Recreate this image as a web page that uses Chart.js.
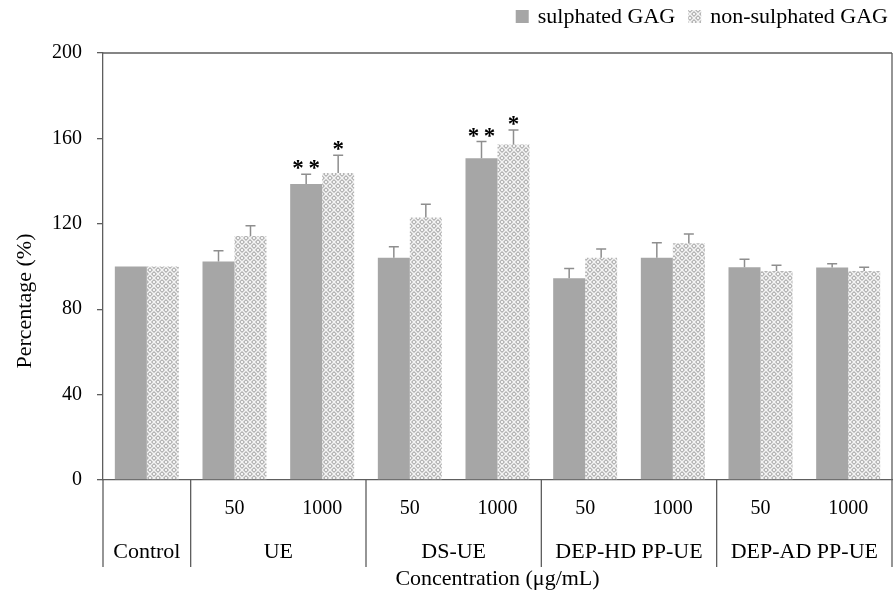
<!DOCTYPE html>
<html><head><meta charset="utf-8">
<script src="https://cdn.jsdelivr.net/npm/chart.js@4"></script>
<style>html,body{margin:0;padding:0;background:#fff}</style>
</head><body>
<canvas id="c" width="894" height="595" style="display:block;width:894px;height:595px"></canvas>
<script>
// ---- data ----
const concLabels = ['', '50', '1000', '50', '1000', '50', '1000', '50', '1000'];
const groupNames = ['Control', 'UE', 'DS-UE', 'DEP-HD PP-UE', 'DEP-AD PP-UE'];
const groupFirst = [0, 1, 3, 5, 7];
const groupLast  = [0, 2, 4, 6, 8];
const seriesNames = ['sulphated GAG', 'non-sulphated GAG'];
const sulphated     = [100, 102.3, 138.6, 104.1, 150.7, 94.5, 104.1, 99.6, 99.5];
const sulphatedErr  = [0, 5.1, 4.6, 5.2, 7.8, 4.6, 7.0, 3.8, 1.8];
const nonSulphated    = [100, 114.3, 143.8, 122.9, 157.2, 104.1, 110.9, 97.9, 97.9];
const nonSulphatedErr = [0, 4.8, 8.3, 6.2, 6.7, 4.1, 4.3, 2.7, 1.7];
const sigSulphated    = ['', '', '**', '', '**', '', '', '', ''];
const sigNonSulphated = ['', '', '*', '', '*', '', '', '', ''];
const yTicks = [0, 40, 80, 120, 160, 200];

const SERIF = '"Liberation Serif", "Times New Roman", serif';
const AXIS = '#5e5e5e';

const canvas = document.getElementById('c');
const ctx = canvas.getContext('2d');

function makePattern() {
  const t = document.createElement('canvas'); t.width = 8; t.height = 8;
  const g = t.getContext('2d');
  const rows = [
    'gddgwggw',
    'dwwdgwwg',
    'dwwdgwwg',
    'gddgwggw',
    'wggwgddg',
    'gwwgdwwd',
    'gwwgdwwd',
    'wggwgddg'];
  const col = { d: '#b4b4b4', g: '#d2d2d2', w: '#f4f4f4' };
  rows.forEach((r, y) => [...r].forEach((ch, x) => { g.fillStyle = col[ch]; g.fillRect(x, y, 1, 1); }));
  return ctx.createPattern(t, 'repeat');
}
const pattern = makePattern();
const errs = [sulphatedErr, nonSulphatedErr];
const sigs = [sigSulphated, sigNonSulphated];

const extras = {
  id: 'extras',
  afterDatasetsDraw(chart) {
    const c = chart.ctx, ys = chart.scales.y;
    chart.data.datasets.forEach((ds, i) => {
      const meta = chart.getDatasetMeta(i);
      meta.data.forEach((bar, j) => {
        const e = errs[i][j];
        const topV = ds.data[j] + e;
        const yTop = ys.getPixelForValue(topV);
        if (e > 0) {
          c.save();
          c.strokeStyle = '#8e8e8e'; c.lineWidth = 1.5;
          c.beginPath();
          c.moveTo(bar.x, bar.y); c.lineTo(bar.x, yTop);
          c.moveTo(bar.x - 5, yTop); c.lineTo(bar.x + 5, yTop);
          c.stroke(); c.restore();
        }
        const s = sigs[i][j];
        if (s) {
          c.save();
          c.fillStyle = '#000';
          c.font = 'bold 23px ' + SERIF;
          c.textAlign = 'center'; c.textBaseline = 'alphabetic';
          c.fillText(s.split('').join('\u2009'), bar.x, yTop - 13 + 14);
          c.restore();
        }
      });
    });
  },
  afterDraw(chart) {
    const c = chart.ctx, a = chart.chartArea, xs = chart.scales.x;
    const bottom = 567;
    c.save();
    c.strokeStyle = AXIS; c.lineWidth = 1.3;
    c.beginPath();
    c.moveTo(a.left, a.top); c.lineTo(a.right, a.top);
    c.moveTo(a.right, a.top); c.lineTo(a.right, bottom);
    c.moveTo(a.left, a.bottom); c.lineTo(a.left, bottom);
    for (let g = 0; g < groupFirst.length - 1; g++) {
      const x = (xs.getPixelForValue(groupLast[g]) + xs.getPixelForValue(groupFirst[g + 1])) / 2;
      c.moveTo(x, a.bottom); c.lineTo(x, bottom);
    }
    c.stroke();
    c.fillStyle = '#000';
    c.font = '22px ' + SERIF;
    c.textAlign = 'center'; c.textBaseline = 'middle';
    groupNames.forEach((n, g) => {
      const x = (xs.getPixelForValue(groupFirst[g]) + xs.getPixelForValue(groupLast[g])) / 2;
      c.fillText(n, x, 552);
    });
    c.save();
    c.translate(25, 301); c.rotate(-Math.PI / 2);
    c.fillText('Percentage (%)', 0, 0);
    c.restore();
    c.textAlign = 'left';
    const fills = chart.data.datasets.map(d => d.backgroundColor);
    const w1 = c.measureText(seriesNames[0]).width;
    const w2 = c.measureText(seriesNames[1]).width;
    const xEnd = 888;
    const t2 = xEnd - w2, b2 = t2 - 9 - 13;
    const t1 = b2 - 13 - w1, b1 = t1 - 9 - 13;
    c.fillStyle = fills[0]; c.fillRect(b1, 10, 13, 13);
    c.fillStyle = fills[1]; c.fillRect(b2, 10, 13, 13);
    c.fillStyle = '#000';
    c.fillText(seriesNames[0], t1, 17);
    c.fillText(seriesNames[1], t2, 17);
    c.restore();
  }
};

new Chart(canvas, {
  type: 'bar',
  data: {
    labels: concLabels,
    datasets: [
      { label: seriesNames[0], data: sulphated, backgroundColor: '#a6a6a6', borderWidth: 0 },
      { label: seriesNames[1], data: nonSulphated, backgroundColor: pattern, borderWidth: 0 }
    ]
  },
  options: {
    responsive: false,
    animation: false,
    devicePixelRatio: 1,
    layout: { padding: { top: 53, right: 2, left: 0, bottom: 0 } },
    datasets: { bar: { categoryPercentage: 0.73, barPercentage: 1.0 } },
    plugins: { legend: { display: false }, tooltip: { enabled: false } },
    scales: {
      x: {
        grid: { display: false, drawTicks: false },
        border: { display: true, color: AXIS, width: 1.3 },
        ticks: { color: '#000', font: { family: SERIF, size: 20 }, padding: 17, maxRotation: 0, autoSkip: false },
        title: { display: true, text: 'Concentration (\u03bcg/mL)', color: '#000', font: { family: SERIF, size: 22 }, padding: { top: 0, bottom: 3 } },
        afterFit(s) { s.height = 115; }
      },
      y: {
        min: 0, max: 200,
        afterBuildTicks(s) { s.ticks = yTicks.map(v => ({ value: v })); },
        grid: { drawOnChartArea: false, drawTicks: true, tickLength: 6, color: AXIS, lineWidth: 1.3 },
        border: { display: true, color: AXIS, width: 1.3 },
        ticks: { color: '#000', font: { family: SERIF, size: 20 }, padding: 15 },
        afterFit(s) { s.width = 103; }
      }
    }
  },
  plugins: [extras]
});
</script>
</body></html>
